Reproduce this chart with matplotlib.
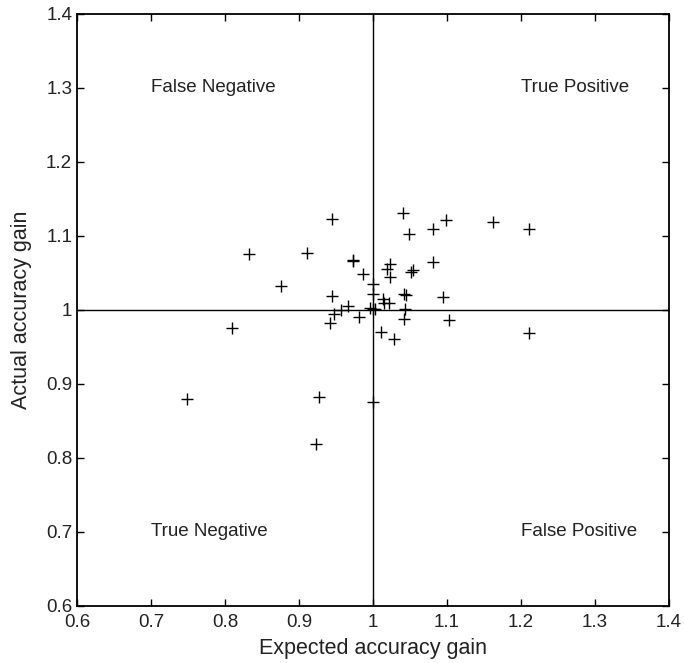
import matplotlib
matplotlib.use("Agg")
import matplotlib.pyplot as plt

plt.rcParams['font.family'] = ['Liberation Sans', 'DejaVu Sans']

# expected vs actual accuracy gain
expected = [0.749, 0.809, 0.833, 0.875, 0.911, 0.9445, 0.9725, 0.973, 0.987,
            1.0005, 1.0005, 0.9446, 1.023, 1.019, 1.0225, 1.013, 1.0153, 1.0212,
            0.966, 0.957, 0.9477, 0.942, 0.9815, 0.996, 1.000, 1.003,
            1.040, 1.099, 1.162, 1.211, 1.0815, 1.0486, 1.081, 1.0536, 1.0514,
            1.042, 1.044, 1.094, 1.043, 1.0415, 1.103, 1.011, 1.028,
            0.9266, 1.000, 0.9234, 1.211]
actual = [0.880, 0.976, 1.075, 1.032, 1.077, 1.1225, 1.0676, 1.0666, 1.048,
          1.035, 1.0216, 1.0194, 1.0626, 1.0554, 1.0442, 1.0145, 1.009, 1.0099,
          1.0054, 1.000, 0.994, 0.983, 0.9905, 1.003, 1.001, 1.001,
          1.131, 1.1216, 1.1194, 1.109, 1.1095, 1.1027, 1.0653, 1.0545, 1.051,
          1.022, 1.020, 1.018, 1.001, 0.988, 0.9865, 0.970, 0.961,
          0.883, 0.875, 0.8185, 0.9685]

quadrants = ["False Negative", "True Positive", "True Negative", "False Positive"]
quad_x = [0.7, 1.2, 0.7, 1.2]
quad_y = [1.3, 1.3, 0.7, 0.7]

ticks = [0.6, 0.7, 0.8, 0.9, 1.0, 1.1, 1.2, 1.3, 1.4]
tick_labels = ["0.6", "0.7", "0.8", "0.9", "1", "1.1", "1.2", "1.3", "1.4"]

fig = plt.figure(figsize=(6.84, 6.63), dpi=100)
ax = fig.add_axes([0.1126, 0.086, 0.8655, 0.893])

ax.axvline(1.0, color='black', lw=1.0, zorder=1)
ax.axhline(1.0, color='black', lw=1.0, zorder=1)
ax.plot(expected, actual, '+', color='black', markersize=9, mew=1.0, zorder=2)

for label, x, y in zip(quadrants, quad_x, quad_y):
    ax.text(x, y, label, ha='left', va='center', fontsize=13.5, color='#222222')

ax.set_xlim(0.6, 1.4)
ax.set_ylim(0.6, 1.4)
ax.set_xticks(ticks)
ax.set_xticklabels(tick_labels)
ax.set_yticks(ticks)
ax.set_yticklabels(tick_labels)
ax.tick_params(direction='in', length=5, width=1, top=True, right=True,
               labelsize=13.5, colors='black', labelcolor='#222222')
ax.tick_params(axis='x', pad=6)
for sp in ax.spines.values():
    sp.set_linewidth(1.3)

ax.set_xlabel("Expected accuracy gain", fontsize=15.5, color='#222222', labelpad=5)
ax.set_ylabel("Actual accuracy gain", fontsize=15.5, color='#222222', labelpad=10)

fig.savefig("out.png", dpi=100)
